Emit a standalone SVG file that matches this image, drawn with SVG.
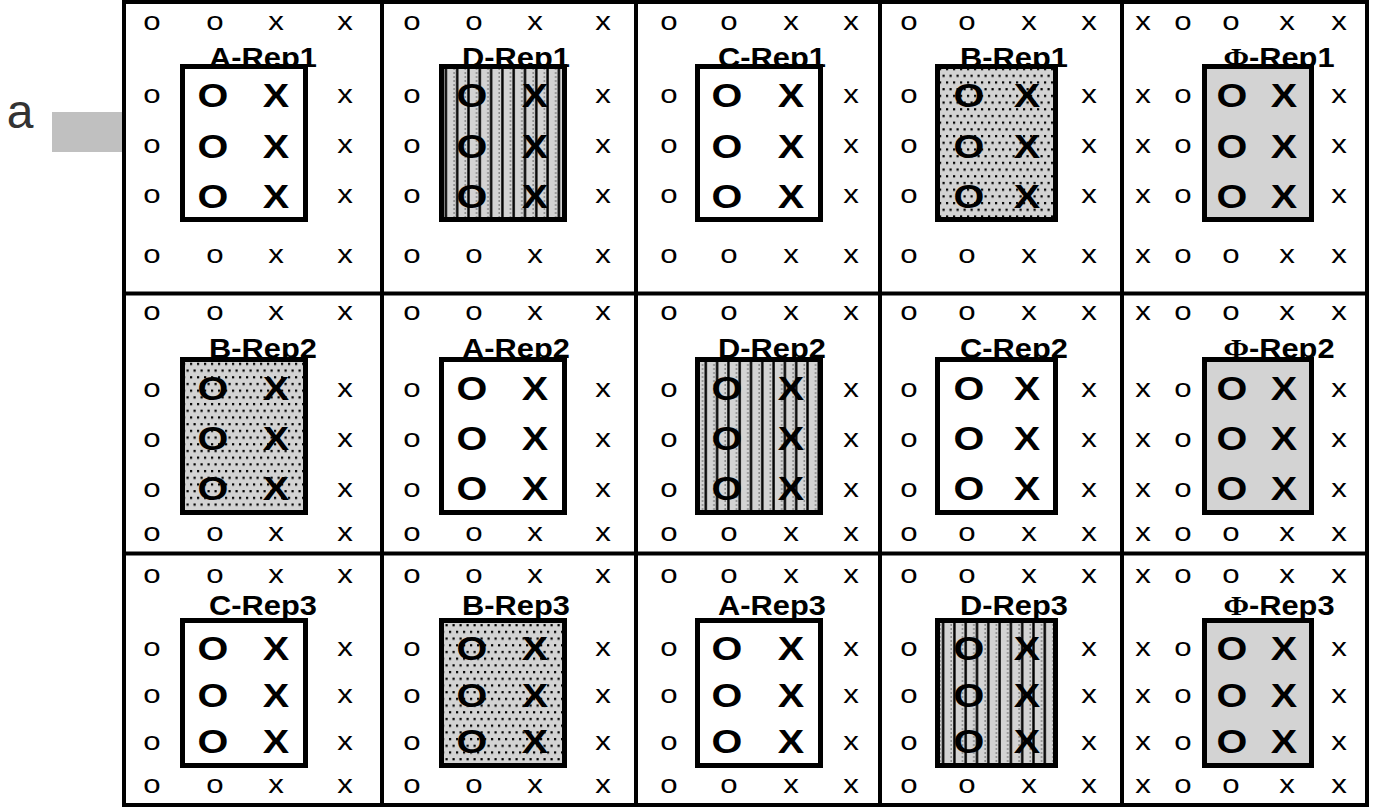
<svg xmlns="http://www.w3.org/2000/svg" width="1378" height="809" viewBox="0 0 1378 809">
<style>
text{font-family:"Liberation Sans",Arial,sans-serif;text-anchor:middle;fill:#000}
.s{font-size:26px}
.b{font-size:33px;font-weight:bold}
.l{font-size:28px;font-weight:bold}
.box{stroke:#000;stroke-width:5}
.grid{fill:none;stroke:#000;stroke-width:4}
.phi{font-family:"Liberation Serif",serif}
</style>
<defs>
<pattern id="stripes" patternUnits="userSpaceOnUse" width="11.3" height="4">
<rect width="11.3" height="4" fill="#d3d3d3"/>
<rect x="4" width="2.4" height="4" fill="#000"/>
<rect x="1.5" width="1" height="2" fill="#666"/>
</pattern>
<pattern id="dots" patternUnits="userSpaceOnUse" width="7" height="13.4">
<rect width="7" height="13.4" fill="#d3d3d3"/>
<rect x="1" y="1" width="2.2" height="2.2" fill="#000"/>
<rect x="4.5" y="7.7" width="2.2" height="2.2" fill="#000"/>
</pattern>
</defs>
<rect width="1378" height="809" fill="#fff"/>
<g id="side-label">
<rect x="52" y="112" width="70" height="40" fill="#c0c0c0"/>
<text x="20" y="128" style="font-size:48px;fill:#333">a</text>
</g>
<g id="connectors">
<rect class="grid" x="124" y="2" width="1243" height="803"/>
<line class="grid" x1="382" y1="2" x2="382" y2="805"/>
<line class="grid" x1="636" y1="2" x2="636" y2="805"/>
<line class="grid" x1="880" y1="2" x2="880" y2="805"/>
<line class="grid" x1="1122" y1="2" x2="1122" y2="805"/>
<line class="grid" x1="124" y1="293.5" x2="1367" y2="293.5"/>
<line class="grid" x1="124" y1="553.5" x2="1367" y2="553.5"/>
</g>

<!-- Row 1 -->
<g id="A-Rep1">
<text class="l" transform="matrix(1.1 0 0 1 263 67)">A-Rep1</text>
<g transform="scale(1.2 1)">
<text class="s" x="126.67 179.17 230 287.5" y="30">ooxx</text>
<text class="s" x="126.67" y="103">o</text><text class="s" x="287.5" y="103">x</text>
<text class="s" x="126.67" y="153">o</text><text class="s" x="287.5" y="153">x</text>
<text class="s" x="126.67" y="203">o</text><text class="s" x="287.5" y="203">x</text>
<text class="s" x="126.67 179.17 230 287.5" y="263">ooxx</text>
</g>
<rect class="box" x="182.5" y="66.5" width="123" height="153" fill="#fff"/>
<g transform="scale(1.2 1)">
<text class="b" x="177.5 230" y="107">OX</text>
<text class="b" x="177.5 230" y="158">OX</text>
<text class="b" x="177.5 230" y="208">OX</text>
</g>
</g>
<g id="D-Rep1">
<text class="l" transform="matrix(1.1 0 0 1 516 67)">D-Rep1</text>
<g transform="scale(1.2 1)">
<text class="s" x="343.33 395 445.83 502.5" y="30">ooxx</text>
<text class="s" x="343.33" y="103">o</text><text class="s" x="502.5" y="103">x</text>
<text class="s" x="343.33" y="153">o</text><text class="s" x="502.5" y="153">x</text>
<text class="s" x="343.33" y="203">o</text><text class="s" x="502.5" y="203">x</text>
<text class="s" x="343.33 395 445.83 502.5" y="263">ooxx</text>
</g>
<rect class="box" x="441.5" y="66.5" width="123" height="153" fill="url(#stripes)"/>
<g transform="scale(1.2 1)">
<text class="b" x="393.33 445.83" y="107">OX</text>
<text class="b" x="393.33 445.83" y="158">OX</text>
<text class="b" x="393.33 445.83" y="208">OX</text>
</g>
</g>
<g id="C-Rep1">
<text class="l" transform="matrix(1.1 0 0 1 772 67)">C-Rep1</text>
<g transform="scale(1.2 1)">
<text class="s" x="557.5 607.5 659.17 709.17" y="30">ooxx</text>
<text class="s" x="557.5" y="103">o</text><text class="s" x="709.17" y="103">x</text>
<text class="s" x="557.5" y="153">o</text><text class="s" x="709.17" y="153">x</text>
<text class="s" x="557.5" y="203">o</text><text class="s" x="709.17" y="203">x</text>
<text class="s" x="557.5 607.5 659.17 709.17" y="263">ooxx</text>
</g>
<rect class="box" x="697.5" y="66.5" width="123" height="153" fill="#fff"/>
<g transform="scale(1.2 1)">
<text class="b" x="605.83 659.17" y="107">OX</text>
<text class="b" x="605.83 659.17" y="158">OX</text>
<text class="b" x="605.83 659.17" y="208">OX</text>
</g>
</g>
<g id="B-Rep1">
<text class="l" transform="matrix(1.1 0 0 1 1014 67)">B-Rep1</text>
<g transform="scale(1.2 1)">
<text class="s" x="757.5 805.83 857.5 907.5" y="30">ooxx</text>
<text class="s" x="757.5" y="103">o</text><text class="s" x="907.5" y="103">x</text>
<text class="s" x="757.5" y="153">o</text><text class="s" x="907.5" y="153">x</text>
<text class="s" x="757.5" y="203">o</text><text class="s" x="907.5" y="203">x</text>
<text class="s" x="757.5 805.83 857.5 907.5" y="263">ooxx</text>
</g>
<rect class="box" x="937.5" y="66.5" width="118" height="153" fill="url(#dots)"/>
<g transform="scale(1.2 1)">
<text class="b" x="807.5 855.83" y="107">OX</text>
<text class="b" x="807.5 855.83" y="158">OX</text>
<text class="b" x="807.5 855.83" y="208">OX</text>
</g>
</g>
<g id="Phi-Rep1">
<text class="l" transform="matrix(1.1 0 0 1 1279 67)"><tspan class="phi">Φ</tspan>-Rep1</text>
<g transform="scale(1.2 1)">
<text class="s" x="952.5 985.83 1025.83 1072.5 1115.83" y="30">xooxx</text>
<text class="s" x="952.5 985.83" y="103">xo</text><text class="s" x="1115.83" y="103">x</text>
<text class="s" x="952.5 985.83" y="153">xo</text><text class="s" x="1115.83" y="153">x</text>
<text class="s" x="952.5 985.83" y="203">xo</text><text class="s" x="1115.83" y="203">x</text>
<text class="s" x="952.5 985.83 1025.83 1072.5 1115.83" y="263">xooxx</text>
</g>
<rect class="box" x="1204.5" y="66.5" width="107" height="153" fill="#d3d3d3"/>
<g transform="scale(1.2 1)">
<text class="b" x="1026.67 1070" y="107">OX</text>
<text class="b" x="1026.67 1070" y="158">OX</text>
<text class="b" x="1026.67 1070" y="208">OX</text>
</g>
</g>

<!-- Row 2 -->
<g id="B-Rep2">
<text class="l" transform="matrix(1.1 0 0 1 263 358)">B-Rep2</text>
<g transform="scale(1.2 1)">
<text class="s" x="126.67 179.17 230 287.5" y="320">ooxx</text>
<text class="s" x="126.67" y="397">o</text><text class="s" x="287.5" y="397">x</text>
<text class="s" x="126.67" y="447">o</text><text class="s" x="287.5" y="447">x</text>
<text class="s" x="126.67" y="497">o</text><text class="s" x="287.5" y="497">x</text>
<text class="s" x="126.67 179.17 230 287.5" y="541">ooxx</text>
</g>
<rect class="box" x="182.5" y="359.5" width="123" height="153" fill="url(#dots)"/>
<g transform="scale(1.2 1)">
<text class="b" x="177.5 230" y="400">OX</text>
<text class="b" x="177.5 230" y="450">OX</text>
<text class="b" x="177.5 230" y="500">OX</text>
</g>
</g>
<g id="A-Rep2">
<text class="l" transform="matrix(1.1 0 0 1 516 358)">A-Rep2</text>
<g transform="scale(1.2 1)">
<text class="s" x="343.33 395 445.83 502.5" y="320">ooxx</text>
<text class="s" x="343.33" y="397">o</text><text class="s" x="502.5" y="397">x</text>
<text class="s" x="343.33" y="447">o</text><text class="s" x="502.5" y="447">x</text>
<text class="s" x="343.33" y="497">o</text><text class="s" x="502.5" y="497">x</text>
<text class="s" x="343.33 395 445.83 502.5" y="541">ooxx</text>
</g>
<rect class="box" x="441.5" y="359.5" width="123" height="153" fill="#fff"/>
<g transform="scale(1.2 1)">
<text class="b" x="393.33 445.83" y="400">OX</text>
<text class="b" x="393.33 445.83" y="450">OX</text>
<text class="b" x="393.33 445.83" y="500">OX</text>
</g>
</g>
<g id="D-Rep2">
<text class="l" transform="matrix(1.1 0 0 1 772 358)">D-Rep2</text>
<g transform="scale(1.2 1)">
<text class="s" x="557.5 607.5 659.17 709.17" y="320">ooxx</text>
<text class="s" x="557.5" y="397">o</text><text class="s" x="709.17" y="397">x</text>
<text class="s" x="557.5" y="447">o</text><text class="s" x="709.17" y="447">x</text>
<text class="s" x="557.5" y="497">o</text><text class="s" x="709.17" y="497">x</text>
<text class="s" x="557.5 607.5 659.17 709.17" y="541">ooxx</text>
</g>
<rect class="box" x="697.5" y="359.5" width="123" height="153" fill="url(#stripes)"/>
<g transform="scale(1.2 1)">
<text class="b" x="605.83 659.17" y="400">OX</text>
<text class="b" x="605.83 659.17" y="450">OX</text>
<text class="b" x="605.83 659.17" y="500">OX</text>
</g>
</g>
<g id="C-Rep2">
<text class="l" transform="matrix(1.1 0 0 1 1014 358)">C-Rep2</text>
<g transform="scale(1.2 1)">
<text class="s" x="757.5 805.83 857.5 907.5" y="320">ooxx</text>
<text class="s" x="757.5" y="397">o</text><text class="s" x="907.5" y="397">x</text>
<text class="s" x="757.5" y="447">o</text><text class="s" x="907.5" y="447">x</text>
<text class="s" x="757.5" y="497">o</text><text class="s" x="907.5" y="497">x</text>
<text class="s" x="757.5 805.83 857.5 907.5" y="541">ooxx</text>
</g>
<rect class="box" x="937.5" y="359.5" width="118" height="153" fill="#fff"/>
<g transform="scale(1.2 1)">
<text class="b" x="807.5 855.83" y="400">OX</text>
<text class="b" x="807.5 855.83" y="450">OX</text>
<text class="b" x="807.5 855.83" y="500">OX</text>
</g>
</g>
<g id="Phi-Rep2">
<text class="l" transform="matrix(1.1 0 0 1 1279 358)"><tspan class="phi">Φ</tspan>-Rep2</text>
<g transform="scale(1.2 1)">
<text class="s" x="952.5 985.83 1025.83 1072.5 1115.83" y="320">xooxx</text>
<text class="s" x="952.5 985.83" y="397">xo</text><text class="s" x="1115.83" y="397">x</text>
<text class="s" x="952.5 985.83" y="447">xo</text><text class="s" x="1115.83" y="447">x</text>
<text class="s" x="952.5 985.83" y="497">xo</text><text class="s" x="1115.83" y="497">x</text>
<text class="s" x="952.5 985.83 1025.83 1072.5 1115.83" y="541">xooxx</text>
</g>
<rect class="box" x="1204.5" y="359.5" width="107" height="153" fill="#d3d3d3"/>
<g transform="scale(1.2 1)">
<text class="b" x="1026.67 1070" y="400">OX</text>
<text class="b" x="1026.67 1070" y="450">OX</text>
<text class="b" x="1026.67 1070" y="500">OX</text>
</g>
</g>

<!-- Row 3 -->
<g id="C-Rep3">
<text class="l" transform="matrix(1.1 0 0 1 263 615)">C-Rep3</text>
<g transform="scale(1.2 1)">
<text class="s" x="126.67 179.17 230 287.5" y="583">ooxx</text>
<text class="s" x="126.67" y="656">o</text><text class="s" x="287.5" y="656">x</text>
<text class="s" x="126.67" y="703">o</text><text class="s" x="287.5" y="703">x</text>
<text class="s" x="126.67" y="750">o</text><text class="s" x="287.5" y="750">x</text>
<text class="s" x="126.67 179.17 230 287.5" y="793">ooxx</text>
</g>
<rect class="box" x="182.5" y="620.5" width="123" height="145" fill="#fff"/>
<g transform="scale(1.2 1)">
<text class="b" x="177.5 230" y="660">OX</text>
<text class="b" x="177.5 230" y="707">OX</text>
<text class="b" x="177.5 230" y="753">OX</text>
</g>
</g>
<g id="B-Rep3">
<text class="l" transform="matrix(1.1 0 0 1 516 615)">B-Rep3</text>
<g transform="scale(1.2 1)">
<text class="s" x="343.33 395 445.83 502.5" y="583">ooxx</text>
<text class="s" x="343.33" y="656">o</text><text class="s" x="502.5" y="656">x</text>
<text class="s" x="343.33" y="703">o</text><text class="s" x="502.5" y="703">x</text>
<text class="s" x="343.33" y="750">o</text><text class="s" x="502.5" y="750">x</text>
<text class="s" x="343.33 395 445.83 502.5" y="793">ooxx</text>
</g>
<rect class="box" x="441.5" y="620.5" width="123" height="145" fill="url(#dots)"/>
<g transform="scale(1.2 1)">
<text class="b" x="393.33 445.83" y="660">OX</text>
<text class="b" x="393.33 445.83" y="707">OX</text>
<text class="b" x="393.33 445.83" y="753">OX</text>
</g>
</g>
<g id="A-Rep3">
<text class="l" transform="matrix(1.1 0 0 1 772 615)">A-Rep3</text>
<g transform="scale(1.2 1)">
<text class="s" x="557.5 607.5 659.17 709.17" y="583">ooxx</text>
<text class="s" x="557.5" y="656">o</text><text class="s" x="709.17" y="656">x</text>
<text class="s" x="557.5" y="703">o</text><text class="s" x="709.17" y="703">x</text>
<text class="s" x="557.5" y="750">o</text><text class="s" x="709.17" y="750">x</text>
<text class="s" x="557.5 607.5 659.17 709.17" y="793">ooxx</text>
</g>
<rect class="box" x="697.5" y="620.5" width="123" height="145" fill="#fff"/>
<g transform="scale(1.2 1)">
<text class="b" x="605.83 659.17" y="660">OX</text>
<text class="b" x="605.83 659.17" y="707">OX</text>
<text class="b" x="605.83 659.17" y="753">OX</text>
</g>
</g>
<g id="D-Rep3">
<text class="l" transform="matrix(1.1 0 0 1 1014 615)">D-Rep3</text>
<g transform="scale(1.2 1)">
<text class="s" x="757.5 805.83 857.5 907.5" y="583">ooxx</text>
<text class="s" x="757.5" y="656">o</text><text class="s" x="907.5" y="656">x</text>
<text class="s" x="757.5" y="703">o</text><text class="s" x="907.5" y="703">x</text>
<text class="s" x="757.5" y="750">o</text><text class="s" x="907.5" y="750">x</text>
<text class="s" x="757.5 805.83 857.5 907.5" y="793">ooxx</text>
</g>
<rect class="box" x="937.5" y="620.5" width="118" height="145" fill="url(#stripes)"/>
<g transform="scale(1.2 1)">
<text class="b" x="807.5 855.83" y="660">OX</text>
<text class="b" x="807.5 855.83" y="707">OX</text>
<text class="b" x="807.5 855.83" y="753">OX</text>
</g>
</g>
<g id="Phi-Rep3">
<text class="l" transform="matrix(1.1 0 0 1 1279 615)"><tspan class="phi">Φ</tspan>-Rep3</text>
<g transform="scale(1.2 1)">
<text class="s" x="952.5 985.83 1025.83 1072.5 1115.83" y="583">xooxx</text>
<text class="s" x="952.5 985.83" y="656">xo</text><text class="s" x="1115.83" y="656">x</text>
<text class="s" x="952.5 985.83" y="703">xo</text><text class="s" x="1115.83" y="703">x</text>
<text class="s" x="952.5 985.83" y="750">xo</text><text class="s" x="1115.83" y="750">x</text>
<text class="s" x="952.5 985.83 1025.83 1072.5 1115.83" y="793">xooxx</text>
</g>
<rect class="box" x="1204.5" y="620.5" width="107" height="145" fill="#d3d3d3"/>
<g transform="scale(1.2 1)">
<text class="b" x="1026.67 1070" y="660">OX</text>
<text class="b" x="1026.67 1070" y="707">OX</text>
<text class="b" x="1026.67 1070" y="753">OX</text>
</g>
</g>
</svg>
